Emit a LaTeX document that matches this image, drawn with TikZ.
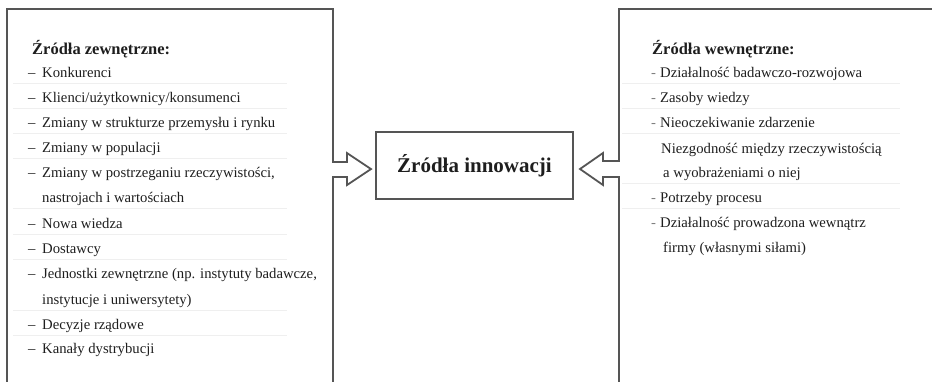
\documentclass[tikz,border=0pt]{standalone}
\usepackage{fontspec}
\setmainfont{Liberation Serif}
\definecolor{frame}{HTML}{555555}
\definecolor{ink}{HTML}{1E1E1E}
\definecolor{rule}{HTML}{EFEFEF}
\begin{document}
\begin{tikzpicture}[x=1pt,y=-1pt,
  outline/.style={draw=frame,line width=1.8pt,line join=miter},
  head/.style={anchor=base west,inner sep=0pt,text=ink,font=\fontsize{16.5}{19}\selectfont\bfseries},
  item/.style={anchor=base west,inner sep=0pt,text=ink,font=\fontsize{14.7}{17}\selectfont},
  bullet/.style={anchor=base west,inner sep=0pt,text=ink,font=\fontsize{14.7}{17}\selectfont},
  hyph/.style={anchor=base west,inner sep=0pt,text=gray,font=\fontsize{14.7}{17}\selectfont},
  sep/.style={draw=rule,line width=1pt}]
\useasboundingbox (0,0) rectangle (932,381);

% central box
\node[draw=frame,line width=1.6pt,minimum width=197pt,minimum height=67pt,inner sep=0pt,
      text=ink,font=\fontsize{21}{24}\selectfont\bfseries] (center) at (474.5,165.5) {Źródła innowacji};

% external sources: frame with outgoing arrow
\draw[outline] (7,395) -- (7,9) -- (333,9) -- (333,162) -- (347,162) -- (347,153)
  -- (371,169) coordinate (ltip) -- (347,185) -- (347,177) -- (333,177) -- (333,395);

% internal sources: frame with outgoing arrow
\draw[outline] (619,395) -- (619,177) -- (603,177) -- (603,185)
  -- (580,169) coordinate (rtip) -- (603,153) -- (603,161) -- (619,161) -- (619,9) -- (945,9);

% left list
\foreach \y in {83,108,133,158,208,234,259,310,335}
  \draw[sep] (13,\y) -- (287,\y);
\node[head] (lt) at (32,54) {Źródła zewnętrzne:};
\foreach \y/\t [count=\i] in {77/Konkurenci,102/{Klienci/użytkownicy/konsumenci},
    127/Zmiany w strukturze przemysłu i rynku,152/Zmiany w populacji,
    177/{Zmiany w postrzeganiu rzeczywistości,},228/Nowa wiedza,253/Dostawcy,
    278/{Jednostki zewnętrzne (np. instytuty badawcze,},329/Decyzje rządowe,353/Kanały dystrybucji}{
  \node[bullet] (ld\i) at (28,\y) {–};
  \node[item] (li\i) at (42,\y) {\t};
}
\node[item] (lc1) at (42,202) {nastrojach i wartościach};
\node[item] (lc2) at (42,304) {instytucje i uniwersytety)};

% right list
\foreach \y in {83,108,133,183,208}
  \draw[sep] (622,\y) -- (900,\y);
\node[head] (rt) at (652,54) {Źródła wewnętrzne:};
\foreach \y/\t [count=\i] in {77/Działalność badawczo-rozwojowa,102/Zasoby wiedzy,
    127/Nieoczekiwanie zdarzenie,202/Potrzeby procesu,227/Działalność prowadzona wewnątrz}{
  \node[hyph] (rd\i) at (651,\y) {-};
  \node[item] (ri\i) at (660,\y) {\t};
}
\node[item] (rc1) at (661,153) {Niezgodność między rzeczywistością};
\node[item] (rc2) at (663,177) {a wyobrażeniami o niej};
\node[item] (rc3) at (663,252) {firmy (własnymi siłami)};
\end{tikzpicture}
\end{document}
